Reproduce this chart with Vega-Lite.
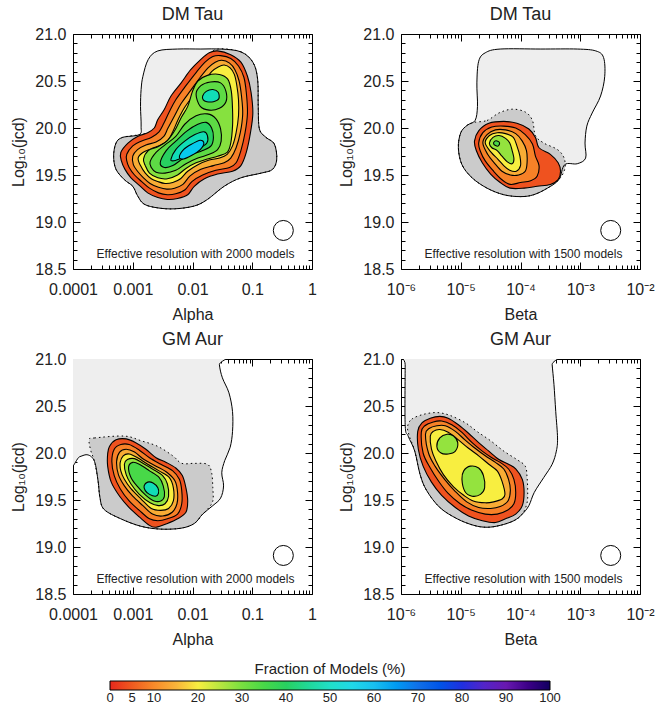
{
"$schema":"https://vega.github.io/schema/vega-lite/v6.json",
"padding":{"left":10,"top":5,"right":5,"bottom":5},
"background":"white",
"datasets":{"c":[
{"p":1,"s":"L","x":-2.86,"y":20.41},{"p":1,"s":"L","x":-2.83,"y":20.55},{"p":1,"s":"L","x":-2.74,"y":20.73},{"p":1,"s":"L","x":-2.58,"y":20.82},{"p":1,"s":"L","x":-2.25,"y":20.84},{"p":1,"s":"L","x":-1.86,"y":20.84},{"p":1,"s":"L","x":-1.52,"y":20.84},{"p":1,"s":"L","x":-1.19,"y":20.81},{"p":1,"s":"L","x":-0.99,"y":20.70},{"p":1,"s":"L","x":-0.91,"y":20.52},{"p":1,"s":"L","x":-0.90,"y":20.23},{"p":1,"s":"L","x":-0.88,"y":19.99},{"p":1,"s":"L","x":-0.77,"y":19.90},{"p":1,"s":"L","x":-0.63,"y":19.83},{"p":1,"s":"L","x":-0.59,"y":19.67},{"p":1,"s":"L","x":-0.66,"y":19.56},{"p":1,"s":"L","x":-0.85,"y":19.52},{"p":1,"s":"L","x":-1.19,"y":19.47},{"p":1,"s":"L","x":-1.47,"y":19.38},{"p":1,"s":"L","x":-1.75,"y":19.24},{"p":1,"s":"L","x":-1.97,"y":19.17},{"p":1,"s":"L","x":-2.30,"y":19.14},{"p":1,"s":"L","x":-2.58,"y":19.15},{"p":1,"s":"L","x":-2.81,"y":19.19},{"p":1,"s":"L","x":-2.92,"y":19.28},{"p":1,"s":"L","x":-3.00,"y":19.38},{"p":1,"s":"L","x":-3.14,"y":19.45},{"p":1,"s":"L","x":-3.28,"y":19.56},{"p":1,"s":"L","x":-3.32,"y":19.70},{"p":1,"s":"L","x":-3.28,"y":19.84},{"p":1,"s":"L","x":-3.17,"y":19.90},{"p":1,"s":"L","x":-2.89,"y":19.93},{"p":1,"s":"L","x":-2.86,"y":20.02},{"p":1,"s":"L","x":-2.87,"y":20.23},
{"p":1,"s":"D","x":-1.58,"y":20.84},{"p":1,"s":"D","x":-1.19,"y":20.81},{"p":1,"s":"D","x":-0.99,"y":20.70},{"p":1,"s":"D","x":-0.91,"y":20.52},{"p":1,"s":"D","x":-0.90,"y":20.23},{"p":1,"s":"D","x":-0.88,"y":19.99},{"p":1,"s":"D","x":-0.77,"y":19.90},{"p":1,"s":"D","x":-0.63,"y":19.83},{"p":1,"s":"D","x":-0.59,"y":19.67},{"p":1,"s":"D","x":-0.66,"y":19.56},{"p":1,"s":"D","x":-0.85,"y":19.52},{"p":1,"s":"D","x":-1.19,"y":19.47},{"p":1,"s":"D","x":-1.47,"y":19.38},{"p":1,"s":"D","x":-1.75,"y":19.24},{"p":1,"s":"D","x":-1.97,"y":19.17},{"p":1,"s":"D","x":-2.30,"y":19.14},{"p":1,"s":"D","x":-2.58,"y":19.15},{"p":1,"s":"D","x":-2.81,"y":19.19},{"p":1,"s":"D","x":-2.92,"y":19.28},{"p":1,"s":"D","x":-3.00,"y":19.38},{"p":1,"s":"D","x":-3.14,"y":19.45},{"p":1,"s":"D","x":-3.28,"y":19.56},{"p":1,"s":"D","x":-3.32,"y":19.70},{"p":1,"s":"D","x":-3.28,"y":19.84},{"p":1,"s":"D","x":-3.17,"y":19.90},{"p":1,"s":"D","x":-2.89,"y":19.93},{"p":1,"s":"D","x":-2.53,"y":19.99},{"p":1,"s":"D","x":-2.33,"y":20.23},{"p":1,"s":"D","x":-2.05,"y":20.50},{"p":1,"s":"D","x":-1.75,"y":20.75},
{"p":1,"s":"a","l":4,"x":-3.20,"y":19.74},{"p":1,"s":"a","l":4,"x":-3.08,"y":19.84},{"p":1,"s":"a","l":4,"x":-2.92,"y":19.91},{"p":1,"s":"a","l":4,"x":-2.75,"y":19.95},{"p":1,"s":"a","l":4,"x":-2.64,"y":20.00},{"p":1,"s":"a","l":4,"x":-2.58,"y":20.09},{"p":1,"s":"a","l":4,"x":-2.47,"y":20.20},{"p":1,"s":"a","l":4,"x":-2.36,"y":20.34},{"p":1,"s":"a","l":4,"x":-2.19,"y":20.48},{"p":1,"s":"a","l":4,"x":-2.03,"y":20.62},{"p":1,"s":"a","l":4,"x":-1.86,"y":20.73},{"p":1,"s":"a","l":4,"x":-1.72,"y":20.80},{"p":1,"s":"a","l":4,"x":-1.58,"y":20.82},{"p":1,"s":"a","l":4,"x":-1.36,"y":20.78},{"p":1,"s":"a","l":4,"x":-1.19,"y":20.70},{"p":1,"s":"a","l":4,"x":-1.08,"y":20.55},{"p":1,"s":"a","l":4,"x":-1.02,"y":20.38},{"p":1,"s":"a","l":4,"x":-0.99,"y":20.16},{"p":1,"s":"a","l":4,"x":-1.03,"y":19.95},{"p":1,"s":"a","l":4,"x":-1.10,"y":19.74},{"p":1,"s":"a","l":4,"x":-1.19,"y":19.60},{"p":1,"s":"a","l":4,"x":-1.33,"y":19.54},{"p":1,"s":"a","l":4,"x":-1.58,"y":19.51},{"p":1,"s":"a","l":4,"x":-1.80,"y":19.46},{"p":1,"s":"a","l":4,"x":-1.97,"y":19.38},{"p":1,"s":"a","l":4,"x":-2.08,"y":19.29},{"p":1,"s":"a","l":4,"x":-2.25,"y":19.25},{"p":1,"s":"a","l":4,"x":-2.42,"y":19.24},{"p":1,"s":"a","l":4,"x":-2.58,"y":19.26},{"p":1,"s":"a","l":4,"x":-2.75,"y":19.31},{"p":1,"s":"a","l":4,"x":-2.89,"y":19.39},{"p":1,"s":"a","l":4,"x":-3.03,"y":19.47},{"p":1,"s":"a","l":4,"x":-3.13,"y":19.56},{"p":1,"s":"a","l":4,"x":-3.19,"y":19.65},
{"p":1,"s":"b","l":9,"x":-3.10,"y":19.72},{"p":1,"s":"b","l":9,"x":-3.00,"y":19.81},{"p":1,"s":"b","l":9,"x":-2.86,"y":19.86},{"p":1,"s":"b","l":9,"x":-2.69,"y":19.90},{"p":1,"s":"b","l":9,"x":-2.56,"y":19.96},{"p":1,"s":"b","l":9,"x":-2.48,"y":20.05},{"p":1,"s":"b","l":9,"x":-2.39,"y":20.17},{"p":1,"s":"b","l":9,"x":-2.28,"y":20.30},{"p":1,"s":"b","l":9,"x":-2.11,"y":20.45},{"p":1,"s":"b","l":9,"x":-1.94,"y":20.59},{"p":1,"s":"b","l":9,"x":-1.79,"y":20.70},{"p":1,"s":"b","l":9,"x":-1.66,"y":20.76},{"p":1,"s":"b","l":9,"x":-1.53,"y":20.77},{"p":1,"s":"b","l":9,"x":-1.36,"y":20.74},{"p":1,"s":"b","l":9,"x":-1.23,"y":20.66},{"p":1,"s":"b","l":9,"x":-1.14,"y":20.54},{"p":1,"s":"b","l":9,"x":-1.10,"y":20.38},{"p":1,"s":"b","l":9,"x":-1.08,"y":20.16},{"p":1,"s":"b","l":9,"x":-1.12,"y":19.95},{"p":1,"s":"b","l":9,"x":-1.19,"y":19.76},{"p":1,"s":"b","l":9,"x":-1.27,"y":19.63},{"p":1,"s":"b","l":9,"x":-1.38,"y":19.58},{"p":1,"s":"b","l":9,"x":-1.61,"y":19.55},{"p":1,"s":"b","l":9,"x":-1.83,"y":19.50},{"p":1,"s":"b","l":9,"x":-2.01,"y":19.43},{"p":1,"s":"b","l":9,"x":-2.13,"y":19.34},{"p":1,"s":"b","l":9,"x":-2.28,"y":19.30},{"p":1,"s":"b","l":9,"x":-2.42,"y":19.29},{"p":1,"s":"b","l":9,"x":-2.57,"y":19.31},{"p":1,"s":"b","l":9,"x":-2.72,"y":19.36},{"p":1,"s":"b","l":9,"x":-2.85,"y":19.43},{"p":1,"s":"b","l":9,"x":-2.97,"y":19.50},{"p":1,"s":"b","l":9,"x":-3.06,"y":19.58},{"p":1,"s":"b","l":9,"x":-3.10,"y":19.65},
{"p":1,"s":"c","l":14,"x":-3.00,"y":19.70},{"p":1,"s":"c","l":14,"x":-2.92,"y":19.77},{"p":1,"s":"c","l":14,"x":-2.78,"y":19.82},{"p":1,"s":"c","l":14,"x":-2.61,"y":19.85},{"p":1,"s":"c","l":14,"x":-2.48,"y":19.91},{"p":1,"s":"c","l":14,"x":-2.41,"y":20.00},{"p":1,"s":"c","l":14,"x":-2.30,"y":20.13},{"p":1,"s":"c","l":14,"x":-2.19,"y":20.26},{"p":1,"s":"c","l":14,"x":-2.03,"y":20.40},{"p":1,"s":"c","l":14,"x":-1.87,"y":20.54},{"p":1,"s":"c","l":14,"x":-1.74,"y":20.64},{"p":1,"s":"c","l":14,"x":-1.62,"y":20.70},{"p":1,"s":"c","l":14,"x":-1.51,"y":20.72},{"p":1,"s":"c","l":14,"x":-1.38,"y":20.69},{"p":1,"s":"c","l":14,"x":-1.29,"y":20.62},{"p":1,"s":"c","l":14,"x":-1.22,"y":20.50},{"p":1,"s":"c","l":14,"x":-1.18,"y":20.34},{"p":1,"s":"c","l":14,"x":-1.16,"y":20.15},{"p":1,"s":"c","l":14,"x":-1.20,"y":19.95},{"p":1,"s":"c","l":14,"x":-1.27,"y":19.79},{"p":1,"s":"c","l":14,"x":-1.36,"y":19.68},{"p":1,"s":"c","l":14,"x":-1.47,"y":19.63},{"p":1,"s":"c","l":14,"x":-1.65,"y":19.60},{"p":1,"s":"c","l":14,"x":-1.86,"y":19.56},{"p":1,"s":"c","l":14,"x":-2.04,"y":19.49},{"p":1,"s":"c","l":14,"x":-2.16,"y":19.40},{"p":1,"s":"c","l":14,"x":-2.30,"y":19.36},{"p":1,"s":"c","l":14,"x":-2.43,"y":19.35},{"p":1,"s":"c","l":14,"x":-2.57,"y":19.37},{"p":1,"s":"c","l":14,"x":-2.71,"y":19.41},{"p":1,"s":"c","l":14,"x":-2.82,"y":19.47},{"p":1,"s":"c","l":14,"x":-2.92,"y":19.54},{"p":1,"s":"c","l":14,"x":-2.99,"y":19.61},
{"p":1,"s":"d","l":20,"x":-2.91,"y":19.68},{"p":1,"s":"d","l":20,"x":-2.83,"y":19.74},{"p":1,"s":"d","l":20,"x":-2.69,"y":19.78},{"p":1,"s":"d","l":20,"x":-2.53,"y":19.82},{"p":1,"s":"d","l":20,"x":-2.41,"y":19.87},{"p":1,"s":"d","l":20,"x":-2.33,"y":19.96},{"p":1,"s":"d","l":20,"x":-2.24,"y":20.09},{"p":1,"s":"d","l":20,"x":-2.13,"y":20.22},{"p":1,"s":"d","l":20,"x":-1.97,"y":20.36},{"p":1,"s":"d","l":20,"x":-1.81,"y":20.49},{"p":1,"s":"d","l":20,"x":-1.68,"y":20.60},{"p":1,"s":"d","l":20,"x":-1.57,"y":20.65},{"p":1,"s":"d","l":20,"x":-1.47,"y":20.67},{"p":1,"s":"d","l":20,"x":-1.37,"y":20.64},{"p":1,"s":"d","l":20,"x":-1.30,"y":20.57},{"p":1,"s":"d","l":20,"x":-1.26,"y":20.46},{"p":1,"s":"d","l":20,"x":-1.23,"y":20.30},{"p":1,"s":"d","l":20,"x":-1.23,"y":20.13},{"p":1,"s":"d","l":20,"x":-1.27,"y":19.95},{"p":1,"s":"d","l":20,"x":-1.33,"y":19.81},{"p":1,"s":"d","l":20,"x":-1.42,"y":19.72},{"p":1,"s":"d","l":20,"x":-1.55,"y":19.68},{"p":1,"s":"d","l":20,"x":-1.72,"y":19.66},{"p":1,"s":"d","l":20,"x":-1.91,"y":19.61},{"p":1,"s":"d","l":20,"x":-2.08,"y":19.54},{"p":1,"s":"d","l":20,"x":-2.20,"y":19.46},{"p":1,"s":"d","l":20,"x":-2.33,"y":19.42},{"p":1,"s":"d","l":20,"x":-2.46,"y":19.41},{"p":1,"s":"d","l":20,"x":-2.58,"y":19.43},{"p":1,"s":"d","l":20,"x":-2.69,"y":19.46},{"p":1,"s":"d","l":20,"x":-2.79,"y":19.52},{"p":1,"s":"d","l":20,"x":-2.87,"y":19.60},
{"p":1,"s":"e","l":29,"x":-2.82,"y":19.67},{"p":1,"s":"e","l":29,"x":-2.74,"y":19.76},{"p":1,"s":"e","l":29,"x":-2.58,"y":19.80},{"p":1,"s":"e","l":29,"x":-2.43,"y":19.86},{"p":1,"s":"e","l":29,"x":-2.30,"y":19.97},{"p":1,"s":"e","l":29,"x":-2.19,"y":20.11},{"p":1,"s":"e","l":29,"x":-2.08,"y":20.23},{"p":1,"s":"e","l":29,"x":-2.00,"y":20.39},{"p":1,"s":"e","l":29,"x":-1.91,"y":20.50},{"p":1,"s":"e","l":29,"x":-1.75,"y":20.56},{"p":1,"s":"e","l":29,"x":-1.55,"y":20.57},{"p":1,"s":"e","l":29,"x":-1.41,"y":20.52},{"p":1,"s":"e","l":29,"x":-1.35,"y":20.39},{"p":1,"s":"e","l":29,"x":-1.33,"y":20.20},{"p":1,"s":"e","l":29,"x":-1.33,"y":20.02},{"p":1,"s":"e","l":29,"x":-1.36,"y":19.84},{"p":1,"s":"e","l":29,"x":-1.42,"y":19.74},{"p":1,"s":"e","l":29,"x":-1.58,"y":19.70},{"p":1,"s":"e","l":29,"x":-1.75,"y":19.67},{"p":1,"s":"e","l":29,"x":-1.94,"y":19.63},{"p":1,"s":"e","l":29,"x":-2.11,"y":19.57},{"p":1,"s":"e","l":29,"x":-2.25,"y":19.50},{"p":1,"s":"e","l":29,"x":-2.42,"y":19.46},{"p":1,"s":"e","l":29,"x":-2.58,"y":19.47},{"p":1,"s":"e","l":29,"x":-2.72,"y":19.52},{"p":1,"s":"e","l":29,"x":-2.79,"y":19.60},
{"p":1,"s":"f","l":33,"x":-2.71,"y":19.64},{"p":1,"s":"f","l":33,"x":-2.61,"y":19.74},{"p":1,"s":"f","l":33,"x":-2.46,"y":19.82},{"p":1,"s":"f","l":33,"x":-2.28,"y":19.91},{"p":1,"s":"f","l":33,"x":-2.13,"y":20.04},{"p":1,"s":"f","l":33,"x":-1.94,"y":20.13},{"p":1,"s":"f","l":33,"x":-1.75,"y":20.15},{"p":1,"s":"f","l":33,"x":-1.61,"y":20.10},{"p":1,"s":"f","l":33,"x":-1.53,"y":19.99},{"p":1,"s":"f","l":33,"x":-1.52,"y":19.86},{"p":1,"s":"f","l":33,"x":-1.58,"y":19.77},{"p":1,"s":"f","l":33,"x":-1.72,"y":19.72},{"p":1,"s":"f","l":33,"x":-1.91,"y":19.68},{"p":1,"s":"f","l":33,"x":-2.11,"y":19.62},{"p":1,"s":"f","l":33,"x":-2.28,"y":19.55},{"p":1,"s":"f","l":33,"x":-2.46,"y":19.52},{"p":1,"s":"f","l":33,"x":-2.61,"y":19.53},{"p":1,"s":"f","l":33,"x":-2.69,"y":19.58},
{"p":1,"s":"g","l":33,"x":-1.94,"y":20.36},{"p":1,"s":"g","l":33,"x":-1.86,"y":20.45},{"p":1,"s":"g","l":33,"x":-1.70,"y":20.49},{"p":1,"s":"g","l":33,"x":-1.53,"y":20.48},{"p":1,"s":"g","l":33,"x":-1.44,"y":20.39},{"p":1,"s":"g","l":33,"x":-1.44,"y":20.28},{"p":1,"s":"g","l":33,"x":-1.55,"y":20.21},{"p":1,"s":"g","l":33,"x":-1.72,"y":20.19},{"p":1,"s":"g","l":33,"x":-1.87,"y":20.23},
{"p":1,"s":"h","l":48,"x":-1.83,"y":20.34},{"p":1,"s":"h","l":48,"x":-1.77,"y":20.39},{"p":1,"s":"h","l":48,"x":-1.66,"y":20.41},{"p":1,"s":"h","l":48,"x":-1.57,"y":20.38},{"p":1,"s":"h","l":48,"x":-1.56,"y":20.31},{"p":1,"s":"h","l":48,"x":-1.65,"y":20.28},{"p":1,"s":"h","l":48,"x":-1.76,"y":20.28},{"p":1,"s":"h","l":48,"x":-1.82,"y":20.30},
{"p":1,"s":"i","l":40,"x":-2.54,"y":19.63},{"p":1,"s":"i","l":40,"x":-2.44,"y":19.76},{"p":1,"s":"i","l":40,"x":-2.28,"y":19.86},{"p":1,"s":"i","l":40,"x":-2.09,"y":19.97},{"p":1,"s":"i","l":40,"x":-1.91,"y":20.04},{"p":1,"s":"i","l":40,"x":-1.77,"y":20.06},{"p":1,"s":"i","l":40,"x":-1.68,"y":20.00},{"p":1,"s":"i","l":40,"x":-1.65,"y":19.90},{"p":1,"s":"i","l":40,"x":-1.69,"y":19.81},{"p":1,"s":"i","l":40,"x":-1.83,"y":19.76},{"p":1,"s":"i","l":40,"x":-2.00,"y":19.72},{"p":1,"s":"i","l":40,"x":-2.17,"y":19.67},{"p":1,"s":"i","l":40,"x":-2.33,"y":19.60},{"p":1,"s":"i","l":40,"x":-2.47,"y":19.58},
{"p":1,"s":"j","l":48,"x":-2.36,"y":19.67},{"p":1,"s":"j","l":48,"x":-2.28,"y":19.77},{"p":1,"s":"j","l":48,"x":-2.13,"y":19.86},{"p":1,"s":"j","l":48,"x":-1.96,"y":19.93},{"p":1,"s":"j","l":48,"x":-1.81,"y":19.96},{"p":1,"s":"j","l":48,"x":-1.75,"y":19.92},{"p":1,"s":"j","l":48,"x":-1.76,"y":19.84},{"p":1,"s":"j","l":48,"x":-1.89,"y":19.78},{"p":1,"s":"j","l":48,"x":-2.05,"y":19.72},{"p":1,"s":"j","l":48,"x":-2.22,"y":19.67},{"p":1,"s":"j","l":48,"x":-2.33,"y":19.65},
{"p":1,"s":"k","l":58,"x":-2.22,"y":19.69},{"p":1,"s":"k","l":58,"x":-2.15,"y":19.77},{"p":1,"s":"k","l":58,"x":-2.01,"y":19.83},{"p":1,"s":"k","l":58,"x":-1.87,"y":19.87},{"p":1,"s":"k","l":58,"x":-1.81,"y":19.84},{"p":1,"s":"k","l":58,"x":-1.87,"y":19.77},{"p":1,"s":"k","l":58,"x":-2.01,"y":19.71},{"p":1,"s":"k","l":58,"x":-2.15,"y":19.67},
{"p":1,"s":"O","x":-0.48,"y":18.91},{"p":1,"s":"T","x":-1.95,"y":18.66,"t":"Effective resolution with 2000 models"},

{"p":2,"s":"L","x":-4.70,"y":20.71},{"p":2,"s":"L","x":-4.59,"y":20.80},{"p":2,"s":"L","x":-4.34,"y":20.84},{"p":2,"s":"L","x":-3.66,"y":20.84},{"p":2,"s":"L","x":-3.05,"y":20.84},{"p":2,"s":"L","x":-2.74,"y":20.82},{"p":2,"s":"L","x":-2.61,"y":20.75},{"p":2,"s":"L","x":-2.59,"y":20.55},{"p":2,"s":"L","x":-2.66,"y":20.34},{"p":2,"s":"L","x":-2.80,"y":20.16},{"p":2,"s":"L","x":-2.89,"y":20.02},{"p":2,"s":"L","x":-2.92,"y":19.84},{"p":2,"s":"L","x":-2.91,"y":19.68},{"p":2,"s":"L","x":-3.05,"y":19.62},{"p":2,"s":"L","x":-3.26,"y":19.61},{"p":2,"s":"L","x":-3.36,"y":19.45},{"p":2,"s":"L","x":-3.55,"y":19.36},{"p":2,"s":"L","x":-3.78,"y":19.29},{"p":2,"s":"L","x":-4.00,"y":19.27},{"p":2,"s":"L","x":-4.28,"y":19.29},{"p":2,"s":"L","x":-4.56,"y":19.36},{"p":2,"s":"L","x":-4.81,"y":19.47},{"p":2,"s":"L","x":-4.98,"y":19.61},{"p":2,"s":"L","x":-5.04,"y":19.79},{"p":2,"s":"L","x":-5.00,"y":19.95},{"p":2,"s":"L","x":-4.89,"y":20.03},{"p":2,"s":"L","x":-4.76,"y":20.08},{"p":2,"s":"L","x":-4.72,"y":20.23},{"p":2,"s":"L","x":-4.73,"y":20.48},
{"p":2,"s":"D","x":-4.78,"y":20.06},{"p":2,"s":"D","x":-4.56,"y":20.08},{"p":2,"s":"D","x":-4.36,"y":20.16},{"p":2,"s":"D","x":-4.14,"y":20.20},{"p":2,"s":"D","x":-3.92,"y":20.17},{"p":2,"s":"D","x":-3.80,"y":20.08},{"p":2,"s":"D","x":-3.75,"y":19.92},{"p":2,"s":"D","x":-3.61,"y":19.84},{"p":2,"s":"D","x":-3.38,"y":19.77},{"p":2,"s":"D","x":-3.27,"y":19.68},{"p":2,"s":"D","x":-3.26,"y":19.56},{"p":2,"s":"D","x":-3.36,"y":19.45},{"p":2,"s":"D","x":-3.55,"y":19.36},{"p":2,"s":"D","x":-3.78,"y":19.29},{"p":2,"s":"D","x":-4.00,"y":19.27},{"p":2,"s":"D","x":-4.28,"y":19.29},{"p":2,"s":"D","x":-4.56,"y":19.36},{"p":2,"s":"D","x":-4.81,"y":19.47},{"p":2,"s":"D","x":-4.98,"y":19.61},{"p":2,"s":"D","x":-5.04,"y":19.79},{"p":2,"s":"D","x":-5.00,"y":19.95},{"p":2,"s":"D","x":-4.89,"y":20.03},
{"p":2,"s":"a","l":4,"x":-4.77,"y":19.86},{"p":2,"s":"a","l":4,"x":-4.70,"y":19.97},{"p":2,"s":"a","l":4,"x":-4.53,"y":20.05},{"p":2,"s":"a","l":4,"x":-4.28,"y":20.07},{"p":2,"s":"a","l":4,"x":-4.06,"y":20.05},{"p":2,"s":"a","l":4,"x":-3.86,"y":19.99},{"p":2,"s":"a","l":4,"x":-3.75,"y":19.90},{"p":2,"s":"a","l":4,"x":-3.69,"y":19.79},{"p":2,"s":"a","l":4,"x":-3.50,"y":19.72},{"p":2,"s":"a","l":4,"x":-3.37,"y":19.63},{"p":2,"s":"a","l":4,"x":-3.33,"y":19.54},{"p":2,"s":"a","l":4,"x":-3.37,"y":19.45},{"p":2,"s":"a","l":4,"x":-3.50,"y":19.40},{"p":2,"s":"a","l":4,"x":-3.72,"y":19.38},{"p":2,"s":"a","l":4,"x":-3.94,"y":19.36},{"p":2,"s":"a","l":4,"x":-4.17,"y":19.36},{"p":2,"s":"a","l":4,"x":-4.34,"y":19.42},{"p":2,"s":"a","l":4,"x":-4.50,"y":19.51},{"p":2,"s":"a","l":4,"x":-4.64,"y":19.63},{"p":2,"s":"a","l":4,"x":-4.74,"y":19.76},
{"p":2,"s":"b","l":9,"x":-4.70,"y":19.84},{"p":2,"s":"b","l":9,"x":-4.63,"y":19.95},{"p":2,"s":"b","l":9,"x":-4.48,"y":20.01},{"p":2,"s":"b","l":9,"x":-4.28,"y":20.02},{"p":2,"s":"b","l":9,"x":-4.08,"y":20.00},{"p":2,"s":"b","l":9,"x":-3.92,"y":19.93},{"p":2,"s":"b","l":9,"x":-3.80,"y":19.83},{"p":2,"s":"b","l":9,"x":-3.75,"y":19.70},{"p":2,"s":"b","l":9,"x":-3.69,"y":19.60},{"p":2,"s":"b","l":9,"x":-3.72,"y":19.49},{"p":2,"s":"b","l":9,"x":-3.83,"y":19.44},{"p":2,"s":"b","l":9,"x":-4.00,"y":19.42},{"p":2,"s":"b","l":9,"x":-4.17,"y":19.40},{"p":2,"s":"b","l":9,"x":-4.31,"y":19.45},{"p":2,"s":"b","l":9,"x":-4.45,"y":19.54},{"p":2,"s":"b","l":9,"x":-4.59,"y":19.65},{"p":2,"s":"b","l":9,"x":-4.67,"y":19.75},
{"p":2,"s":"c","l":14,"x":-4.63,"y":19.84},{"p":2,"s":"c","l":14,"x":-4.56,"y":19.93},{"p":2,"s":"c","l":14,"x":-4.42,"y":19.98},{"p":2,"s":"c","l":14,"x":-4.25,"y":19.98},{"p":2,"s":"c","l":14,"x":-4.08,"y":19.94},{"p":2,"s":"c","l":14,"x":-3.97,"y":19.86},{"p":2,"s":"c","l":14,"x":-3.90,"y":19.76},{"p":2,"s":"c","l":14,"x":-3.89,"y":19.63},{"p":2,"s":"c","l":14,"x":-3.92,"y":19.54},{"p":2,"s":"c","l":14,"x":-4.03,"y":19.50},{"p":2,"s":"c","l":14,"x":-4.17,"y":19.50},{"p":2,"s":"c","l":14,"x":-4.31,"y":19.54},{"p":2,"s":"c","l":14,"x":-4.44,"y":19.63},{"p":2,"s":"c","l":14,"x":-4.55,"y":19.72},
{"p":2,"s":"d","l":20,"x":-4.59,"y":19.84},{"p":2,"s":"d","l":20,"x":-4.52,"y":19.92},{"p":2,"s":"d","l":20,"x":-4.39,"y":19.95},{"p":2,"s":"d","l":20,"x":-4.25,"y":19.94},{"p":2,"s":"d","l":20,"x":-4.12,"y":19.90},{"p":2,"s":"d","l":20,"x":-4.06,"y":19.81},{"p":2,"s":"d","l":20,"x":-4.01,"y":19.70},{"p":2,"s":"d","l":20,"x":-4.00,"y":19.60},{"p":2,"s":"d","l":20,"x":-4.07,"y":19.54},{"p":2,"s":"d","l":20,"x":-4.18,"y":19.55},{"p":2,"s":"d","l":20,"x":-4.28,"y":19.60},{"p":2,"s":"d","l":20,"x":-4.38,"y":19.67},{"p":2,"s":"d","l":20,"x":-4.49,"y":19.74},
{"p":2,"s":"e","l":28,"x":-4.52,"y":19.84},{"p":2,"s":"e","l":28,"x":-4.46,"y":19.90},{"p":2,"s":"e","l":28,"x":-4.36,"y":19.92},{"p":2,"s":"e","l":28,"x":-4.25,"y":19.89},{"p":2,"s":"e","l":28,"x":-4.18,"y":19.84},{"p":2,"s":"e","l":28,"x":-4.14,"y":19.76},{"p":2,"s":"e","l":28,"x":-4.11,"y":19.67},{"p":2,"s":"e","l":28,"x":-4.14,"y":19.62},{"p":2,"s":"e","l":28,"x":-4.22,"y":19.64},{"p":2,"s":"e","l":28,"x":-4.31,"y":19.70},{"p":2,"s":"e","l":28,"x":-4.39,"y":19.76},{"p":2,"s":"e","l":28,"x":-4.48,"y":19.79},
{"p":2,"s":"f","l":35,"x":-4.45,"y":19.83},{"p":2,"s":"f","l":35,"x":-4.43,"y":19.86},{"p":2,"s":"f","l":35,"x":-4.38,"y":19.86},{"p":2,"s":"f","l":35,"x":-4.35,"y":19.84},{"p":2,"s":"f","l":35,"x":-4.37,"y":19.81},{"p":2,"s":"f","l":35,"x":-4.41,"y":19.81},
{"p":2,"s":"O","x":-2.49,"y":18.91},{"p":2,"s":"T","x":-3.95,"y":18.66,"t":"Effective resolution with 1500 models"},

{"p":3,"s":"L","x":-4.09,"y":21.08},{"p":3,"s":"L","x":-1.55,"y":21.08},{"p":3,"s":"L","x":-1.55,"y":20.94},{"p":3,"s":"L","x":-1.50,"y":20.80},{"p":3,"s":"L","x":-1.39,"y":20.64},{"p":3,"s":"L","x":-1.33,"y":20.44},{"p":3,"s":"L","x":-1.33,"y":20.23},{"p":3,"s":"L","x":-1.37,"y":20.06},{"p":3,"s":"L","x":-1.46,"y":19.92},{"p":3,"s":"L","x":-1.51,"y":19.79},{"p":3,"s":"L","x":-1.48,"y":19.65},{"p":3,"s":"L","x":-1.53,"y":19.52},{"p":3,"s":"L","x":-1.66,"y":19.44},{"p":3,"s":"L","x":-1.83,"y":19.35},{"p":3,"s":"L","x":-1.97,"y":19.25},{"p":3,"s":"L","x":-2.19,"y":19.20},{"p":3,"s":"L","x":-2.53,"y":19.19},{"p":3,"s":"L","x":-2.86,"y":19.22},{"p":3,"s":"L","x":-3.20,"y":19.30},{"p":3,"s":"L","x":-3.48,"y":19.40},{"p":3,"s":"L","x":-3.55,"y":19.53},{"p":3,"s":"L","x":-3.58,"y":19.70},{"p":3,"s":"L","x":-3.64,"y":19.91},{"p":3,"s":"L","x":-3.75,"y":19.98},{"p":3,"s":"L","x":-3.89,"y":19.96},{"p":3,"s":"L","x":-4.09,"y":19.91},
{"p":3,"s":"D","x":-3.73,"y":20.14},{"p":3,"s":"D","x":-3.64,"y":20.16},{"p":3,"s":"D","x":-3.14,"y":20.18},{"p":3,"s":"D","x":-2.86,"y":20.13},{"p":3,"s":"D","x":-2.58,"y":20.07},{"p":3,"s":"D","x":-2.33,"y":19.97},{"p":3,"s":"D","x":-2.18,"y":19.89},{"p":3,"s":"D","x":-1.97,"y":19.89},{"p":3,"s":"D","x":-1.75,"y":19.88},{"p":3,"s":"D","x":-1.68,"y":19.79},{"p":3,"s":"D","x":-1.66,"y":19.63},{"p":3,"s":"D","x":-1.66,"y":19.49},{"p":3,"s":"D","x":-1.75,"y":19.40},{"p":3,"s":"D","x":-1.83,"y":19.35},{"p":3,"s":"D","x":-1.97,"y":19.25},{"p":3,"s":"D","x":-2.19,"y":19.20},{"p":3,"s":"D","x":-2.53,"y":19.19},{"p":3,"s":"D","x":-2.86,"y":19.22},{"p":3,"s":"D","x":-3.20,"y":19.30},{"p":3,"s":"D","x":-3.48,"y":19.40},{"p":3,"s":"D","x":-3.55,"y":19.53},{"p":3,"s":"D","x":-3.58,"y":19.70},{"p":3,"s":"D","x":-3.64,"y":19.91},{"p":3,"s":"D","x":-3.70,"y":20.02},
{"p":3,"s":"a","l":4,"x":-3.42,"y":19.86},{"p":3,"s":"a","l":4,"x":-3.42,"y":19.99},{"p":3,"s":"a","l":4,"x":-3.39,"y":20.07},{"p":3,"s":"a","l":4,"x":-3.28,"y":20.14},{"p":3,"s":"a","l":4,"x":-3.11,"y":20.15},{"p":3,"s":"a","l":4,"x":-2.95,"y":20.11},{"p":3,"s":"a","l":4,"x":-2.78,"y":20.04},{"p":3,"s":"a","l":4,"x":-2.61,"y":19.95},{"p":3,"s":"a","l":4,"x":-2.44,"y":19.90},{"p":3,"s":"a","l":4,"x":-2.28,"y":19.84},{"p":3,"s":"a","l":4,"x":-2.17,"y":19.76},{"p":3,"s":"a","l":4,"x":-2.11,"y":19.63},{"p":3,"s":"a","l":4,"x":-2.08,"y":19.49},{"p":3,"s":"a","l":4,"x":-2.11,"y":19.37},{"p":3,"s":"a","l":4,"x":-2.25,"y":19.30},{"p":3,"s":"a","l":4,"x":-2.42,"y":19.25},{"p":3,"s":"a","l":4,"x":-2.61,"y":19.21},{"p":3,"s":"a","l":4,"x":-2.72,"y":19.23},{"p":3,"s":"a","l":4,"x":-2.89,"y":19.32},{"p":3,"s":"a","l":4,"x":-3.06,"y":19.42},{"p":3,"s":"a","l":4,"x":-3.22,"y":19.54},{"p":3,"s":"a","l":4,"x":-3.36,"y":19.69},
{"p":3,"s":"b","l":9,"x":-3.35,"y":19.91},{"p":3,"s":"b","l":9,"x":-3.31,"y":20.04},{"p":3,"s":"b","l":9,"x":-3.20,"y":20.09},{"p":3,"s":"b","l":9,"x":-3.06,"y":20.09},{"p":3,"s":"b","l":9,"x":-2.89,"y":20.03},{"p":3,"s":"b","l":9,"x":-2.72,"y":19.95},{"p":3,"s":"b","l":9,"x":-2.53,"y":19.88},{"p":3,"s":"b","l":9,"x":-2.33,"y":19.81},{"p":3,"s":"b","l":9,"x":-2.22,"y":19.72},{"p":3,"s":"b","l":9,"x":-2.18,"y":19.60},{"p":3,"s":"b","l":9,"x":-2.18,"y":19.46},{"p":3,"s":"b","l":9,"x":-2.25,"y":19.35},{"p":3,"s":"b","l":9,"x":-2.42,"y":19.30},{"p":3,"s":"b","l":9,"x":-2.58,"y":19.28},{"p":3,"s":"b","l":9,"x":-2.72,"y":19.30},{"p":3,"s":"b","l":9,"x":-2.89,"y":19.39},{"p":3,"s":"b","l":9,"x":-3.06,"y":19.49},{"p":3,"s":"b","l":9,"x":-3.21,"y":19.62},{"p":3,"s":"b","l":9,"x":-3.31,"y":19.76},
{"p":3,"s":"c","l":14,"x":-3.27,"y":19.91},{"p":3,"s":"c","l":14,"x":-3.22,"y":20.01},{"p":3,"s":"c","l":14,"x":-3.11,"y":20.04},{"p":3,"s":"c","l":14,"x":-2.97,"y":20.01},{"p":3,"s":"c","l":14,"x":-2.81,"y":19.93},{"p":3,"s":"c","l":14,"x":-2.61,"y":19.86},{"p":3,"s":"c","l":14,"x":-2.42,"y":19.79},{"p":3,"s":"c","l":14,"x":-2.29,"y":19.70},{"p":3,"s":"c","l":14,"x":-2.25,"y":19.58},{"p":3,"s":"c","l":14,"x":-2.26,"y":19.46},{"p":3,"s":"c","l":14,"x":-2.34,"y":19.37},{"p":3,"s":"c","l":14,"x":-2.50,"y":19.33},{"p":3,"s":"c","l":14,"x":-2.67,"y":19.35},{"p":3,"s":"c","l":14,"x":-2.83,"y":19.44},{"p":3,"s":"c","l":14,"x":-3.00,"y":19.54},{"p":3,"s":"c","l":14,"x":-3.14,"y":19.65},{"p":3,"s":"c","l":14,"x":-3.24,"y":19.77},
{"p":3,"s":"d","l":20,"x":-3.21,"y":19.90},{"p":3,"s":"d","l":20,"x":-3.16,"y":19.97},{"p":3,"s":"d","l":20,"x":-3.06,"y":19.99},{"p":3,"s":"d","l":20,"x":-2.92,"y":19.95},{"p":3,"s":"d","l":20,"x":-2.75,"y":19.88},{"p":3,"s":"d","l":20,"x":-2.56,"y":19.81},{"p":3,"s":"d","l":20,"x":-2.39,"y":19.74},{"p":3,"s":"d","l":20,"x":-2.32,"y":19.63},{"p":3,"s":"d","l":20,"x":-2.32,"y":19.49},{"p":3,"s":"d","l":20,"x":-2.40,"y":19.41},{"p":3,"s":"d","l":20,"x":-2.53,"y":19.39},{"p":3,"s":"d","l":20,"x":-2.69,"y":19.41},{"p":3,"s":"d","l":20,"x":-2.86,"y":19.51},{"p":3,"s":"d","l":20,"x":-3.03,"y":19.62},{"p":3,"s":"d","l":20,"x":-3.14,"y":19.72},{"p":3,"s":"d","l":20,"x":-3.20,"y":19.81},
{"p":3,"s":"e","l":28,"x":-3.14,"y":19.88},{"p":3,"s":"e","l":28,"x":-3.09,"y":19.93},{"p":3,"s":"e","l":28,"x":-2.97,"y":19.94},{"p":3,"s":"e","l":28,"x":-2.83,"y":19.89},{"p":3,"s":"e","l":28,"x":-2.67,"y":19.83},{"p":3,"s":"e","l":28,"x":-2.50,"y":19.76},{"p":3,"s":"e","l":28,"x":-2.42,"y":19.67},{"p":3,"s":"e","l":28,"x":-2.40,"y":19.54},{"p":3,"s":"e","l":28,"x":-2.46,"y":19.46},{"p":3,"s":"e","l":28,"x":-2.57,"y":19.44},{"p":3,"s":"e","l":28,"x":-2.71,"y":19.47},{"p":3,"s":"e","l":28,"x":-2.89,"y":19.56},{"p":3,"s":"e","l":28,"x":-3.03,"y":19.67},{"p":3,"s":"e","l":28,"x":-3.11,"y":19.77},
{"p":3,"s":"f","l":35,"x":-3.07,"y":19.85},{"p":3,"s":"f","l":35,"x":-3.00,"y":19.90},{"p":3,"s":"f","l":35,"x":-2.89,"y":19.88},{"p":3,"s":"f","l":35,"x":-2.72,"y":19.81},{"p":3,"s":"f","l":35,"x":-2.56,"y":19.74},{"p":3,"s":"f","l":35,"x":-2.49,"y":19.65},{"p":3,"s":"f","l":35,"x":-2.47,"y":19.54},{"p":3,"s":"f","l":35,"x":-2.53,"y":19.49},{"p":3,"s":"f","l":35,"x":-2.64,"y":19.49},{"p":3,"s":"f","l":35,"x":-2.78,"y":19.55},{"p":3,"s":"f","l":35,"x":-2.93,"y":19.65},{"p":3,"s":"f","l":35,"x":-3.03,"y":19.74},
{"p":3,"s":"g","l":48,"x":-2.81,"y":19.65},{"p":3,"s":"g","l":48,"x":-2.75,"y":19.69},{"p":3,"s":"g","l":48,"x":-2.66,"y":19.68},{"p":3,"s":"g","l":48,"x":-2.58,"y":19.63},{"p":3,"s":"g","l":48,"x":-2.57,"y":19.57},{"p":3,"s":"g","l":48,"x":-2.62,"y":19.54},{"p":3,"s":"g","l":48,"x":-2.72,"y":19.56},{"p":3,"s":"g","l":48,"x":-2.79,"y":19.60},
{"p":3,"s":"O","x":-0.48,"y":18.91},{"p":3,"s":"T","x":-1.95,"y":18.66,"t":"Effective resolution with 2000 models"},

{"p":4,"s":"L","x":-5.93,"y":21.08},{"p":4,"s":"L","x":-3.48,"y":21.08},{"p":4,"s":"L","x":-3.47,"y":20.94},{"p":4,"s":"L","x":-3.44,"y":20.73},{"p":4,"s":"L","x":-3.41,"y":20.44},{"p":4,"s":"L","x":-3.38,"y":20.16},{"p":4,"s":"L","x":-3.40,"y":20.02},{"p":4,"s":"L","x":-3.47,"y":19.88},{"p":4,"s":"L","x":-3.61,"y":19.74},{"p":4,"s":"L","x":-3.77,"y":19.58},{"p":4,"s":"L","x":-3.86,"y":19.44},{"p":4,"s":"L","x":-3.97,"y":19.35},{"p":4,"s":"L","x":-4.11,"y":19.28},{"p":4,"s":"L","x":-4.34,"y":19.23},{"p":4,"s":"L","x":-4.56,"y":19.21},{"p":4,"s":"L","x":-4.78,"y":19.23},{"p":4,"s":"L","x":-5.06,"y":19.30},{"p":4,"s":"L","x":-5.35,"y":19.42},{"p":4,"s":"L","x":-5.57,"y":19.60},{"p":4,"s":"L","x":-5.68,"y":19.77},{"p":4,"s":"L","x":-5.77,"y":20.02},{"p":4,"s":"L","x":-5.88,"y":20.18},{"p":4,"s":"L","x":-5.93,"y":20.30},{"p":4,"s":"L","x":-5.93,"y":20.94},
{"p":4,"s":"D","x":-5.89,"y":20.28},{"p":4,"s":"D","x":-5.82,"y":20.36},{"p":4,"s":"D","x":-5.63,"y":20.41},{"p":4,"s":"D","x":-5.40,"y":20.43},{"p":4,"s":"D","x":-5.18,"y":20.40},{"p":4,"s":"D","x":-4.92,"y":20.32},{"p":4,"s":"D","x":-4.73,"y":20.23},{"p":4,"s":"D","x":-4.50,"y":20.13},{"p":4,"s":"D","x":-4.28,"y":20.02},{"p":4,"s":"D","x":-4.06,"y":19.93},{"p":4,"s":"D","x":-3.92,"y":19.86},{"p":4,"s":"D","x":-3.89,"y":19.74},{"p":4,"s":"D","x":-3.88,"y":19.60},{"p":4,"s":"D","x":-3.89,"y":19.47},{"p":4,"s":"D","x":-3.97,"y":19.35},{"p":4,"s":"D","x":-4.11,"y":19.28},{"p":4,"s":"D","x":-4.34,"y":19.23},{"p":4,"s":"D","x":-4.56,"y":19.21},{"p":4,"s":"D","x":-4.78,"y":19.23},{"p":4,"s":"D","x":-5.06,"y":19.30},{"p":4,"s":"D","x":-5.35,"y":19.42},{"p":4,"s":"D","x":-5.57,"y":19.60},{"p":4,"s":"D","x":-5.68,"y":19.77},{"p":4,"s":"D","x":-5.77,"y":20.02},{"p":4,"s":"D","x":-5.86,"y":20.18},
{"p":4,"s":"a","l":4,"x":-5.72,"y":20.23},{"p":4,"s":"a","l":4,"x":-5.65,"y":20.32},{"p":4,"s":"a","l":4,"x":-5.51,"y":20.37},{"p":4,"s":"a","l":4,"x":-5.35,"y":20.39},{"p":4,"s":"a","l":4,"x":-5.21,"y":20.37},{"p":4,"s":"a","l":4,"x":-5.04,"y":20.30},{"p":4,"s":"a","l":4,"x":-4.87,"y":20.21},{"p":4,"s":"a","l":4,"x":-4.70,"y":20.11},{"p":4,"s":"a","l":4,"x":-4.53,"y":20.02},{"p":4,"s":"a","l":4,"x":-4.36,"y":19.93},{"p":4,"s":"a","l":4,"x":-4.20,"y":19.88},{"p":4,"s":"a","l":4,"x":-4.08,"y":19.83},{"p":4,"s":"a","l":4,"x":-3.97,"y":19.72},{"p":4,"s":"a","l":4,"x":-3.94,"y":19.58},{"p":4,"s":"a","l":4,"x":-3.97,"y":19.44},{"p":4,"s":"a","l":4,"x":-4.08,"y":19.35},{"p":4,"s":"a","l":4,"x":-4.25,"y":19.30},{"p":4,"s":"a","l":4,"x":-4.42,"y":19.26},{"p":4,"s":"a","l":4,"x":-4.64,"y":19.28},{"p":4,"s":"a","l":4,"x":-4.87,"y":19.33},{"p":4,"s":"a","l":4,"x":-5.09,"y":19.42},{"p":4,"s":"a","l":4,"x":-5.32,"y":19.55},{"p":4,"s":"a","l":4,"x":-5.49,"y":19.69},{"p":4,"s":"a","l":4,"x":-5.63,"y":19.86},{"p":4,"s":"a","l":4,"x":-5.71,"y":20.04},
{"p":4,"s":"b","l":9,"x":-5.66,"y":20.22},{"p":4,"s":"b","l":9,"x":-5.60,"y":20.29},{"p":4,"s":"b","l":9,"x":-5.46,"y":20.33},{"p":4,"s":"b","l":9,"x":-5.32,"y":20.34},{"p":4,"s":"b","l":9,"x":-5.15,"y":20.30},{"p":4,"s":"b","l":9,"x":-4.98,"y":20.22},{"p":4,"s":"b","l":9,"x":-4.81,"y":20.11},{"p":4,"s":"b","l":9,"x":-4.64,"y":20.02},{"p":4,"s":"b","l":9,"x":-4.48,"y":19.95},{"p":4,"s":"b","l":9,"x":-4.34,"y":19.90},{"p":4,"s":"b","l":9,"x":-4.20,"y":19.83},{"p":4,"s":"b","l":9,"x":-4.11,"y":19.72},{"p":4,"s":"b","l":9,"x":-4.08,"y":19.58},{"p":4,"s":"b","l":9,"x":-4.11,"y":19.46},{"p":4,"s":"b","l":9,"x":-4.22,"y":19.39},{"p":4,"s":"b","l":9,"x":-4.39,"y":19.35},{"p":4,"s":"b","l":9,"x":-4.59,"y":19.35},{"p":4,"s":"b","l":9,"x":-4.81,"y":19.39},{"p":4,"s":"b","l":9,"x":-5.01,"y":19.46},{"p":4,"s":"b","l":9,"x":-5.21,"y":19.57},{"p":4,"s":"b","l":9,"x":-5.37,"y":19.70},{"p":4,"s":"b","l":9,"x":-5.51,"y":19.84},{"p":4,"s":"b","l":9,"x":-5.63,"y":20.00},
{"p":4,"s":"c","l":14,"x":-5.59,"y":20.20},{"p":4,"s":"c","l":14,"x":-5.53,"y":20.26},{"p":4,"s":"c","l":14,"x":-5.40,"y":20.29},{"p":4,"s":"c","l":14,"x":-5.26,"y":20.29},{"p":4,"s":"c","l":14,"x":-5.09,"y":20.23},{"p":4,"s":"c","l":14,"x":-4.93,"y":20.14},{"p":4,"s":"c","l":14,"x":-4.76,"y":20.05},{"p":4,"s":"c","l":14,"x":-4.59,"y":19.97},{"p":4,"s":"c","l":14,"x":-4.42,"y":19.90},{"p":4,"s":"c","l":14,"x":-4.28,"y":19.83},{"p":4,"s":"c","l":14,"x":-4.20,"y":19.72},{"p":4,"s":"c","l":14,"x":-4.17,"y":19.60},{"p":4,"s":"c","l":14,"x":-4.21,"y":19.49},{"p":4,"s":"c","l":14,"x":-4.34,"y":19.43},{"p":4,"s":"c","l":14,"x":-4.50,"y":19.41},{"p":4,"s":"c","l":14,"x":-4.70,"y":19.42},{"p":4,"s":"c","l":14,"x":-4.90,"y":19.48},{"p":4,"s":"c","l":14,"x":-5.09,"y":19.59},{"p":4,"s":"c","l":14,"x":-5.27,"y":19.72},{"p":4,"s":"c","l":14,"x":-5.43,"y":19.86},{"p":4,"s":"c","l":14,"x":-5.54,"y":20.00},
{"p":4,"s":"d","l":20,"x":-5.51,"y":20.18},{"p":4,"s":"d","l":20,"x":-5.46,"y":20.23},{"p":4,"s":"d","l":20,"x":-5.35,"y":20.25},{"p":4,"s":"d","l":20,"x":-5.21,"y":20.22},{"p":4,"s":"d","l":20,"x":-5.04,"y":20.14},{"p":4,"s":"d","l":20,"x":-4.87,"y":20.05},{"p":4,"s":"d","l":20,"x":-4.70,"y":19.97},{"p":4,"s":"d","l":20,"x":-4.53,"y":19.88},{"p":4,"s":"d","l":20,"x":-4.39,"y":19.81},{"p":4,"s":"d","l":20,"x":-4.31,"y":19.70},{"p":4,"s":"d","l":20,"x":-4.26,"y":19.56},{"p":4,"s":"d","l":20,"x":-4.31,"y":19.51},{"p":4,"s":"d","l":20,"x":-4.45,"y":19.48},{"p":4,"s":"d","l":20,"x":-4.59,"y":19.47},{"p":4,"s":"d","l":20,"x":-4.79,"y":19.49},{"p":4,"s":"d","l":20,"x":-4.95,"y":19.55},{"p":4,"s":"d","l":20,"x":-5.12,"y":19.64},{"p":4,"s":"d","l":20,"x":-5.29,"y":19.77},{"p":4,"s":"d","l":20,"x":-5.42,"y":19.92},{"p":4,"s":"d","l":20,"x":-5.49,"y":20.04},
{"p":4,"s":"e","l":28,"x":-5.40,"y":20.07},{"p":4,"s":"e","l":28,"x":-5.35,"y":20.16},{"p":4,"s":"e","l":28,"x":-5.23,"y":20.20},{"p":4,"s":"e","l":28,"x":-5.12,"y":20.18},{"p":4,"s":"e","l":28,"x":-5.05,"y":20.11},{"p":4,"s":"e","l":28,"x":-5.09,"y":20.02},{"p":4,"s":"e","l":28,"x":-5.21,"y":19.99},{"p":4,"s":"e","l":28,"x":-5.33,"y":20.00},
{"p":4,"s":"f","l":28,"x":-4.98,"y":19.72},{"p":4,"s":"f","l":28,"x":-4.95,"y":19.81},{"p":4,"s":"f","l":28,"x":-4.84,"y":19.86},{"p":4,"s":"f","l":28,"x":-4.70,"y":19.84},{"p":4,"s":"f","l":28,"x":-4.62,"y":19.76},{"p":4,"s":"f","l":28,"x":-4.60,"y":19.63},{"p":4,"s":"f","l":28,"x":-4.67,"y":19.56},{"p":4,"s":"f","l":28,"x":-4.81,"y":19.54},{"p":4,"s":"f","l":28,"x":-4.93,"y":19.59},
{"p":4,"s":"O","x":-2.49,"y":18.91},{"p":4,"s":"T","x":-3.95,"y":18.66,"t":"Effective resolution with 1500 models"}
]},
"config":{
 "view":{"stroke":"#000","strokeWidth":1},
 "font":"Liberation Sans",
 "axis":{"grid":false,"domain":false,"labelFont":"Liberation Sans","labelFontSize":16,"labelColor":"#222","titleFont":"Liberation Sans","titleFontSize":16,"titleFontWeight":"normal","titleColor":"#222","tickColor":"#000","tickWidth":1,"labelFlush":false,"labelOverlap":false},
 "title":{"font":"Liberation Sans","fontSize":18,"fontWeight":"normal","color":"#222","offset":2}
},
"spacing":7,
"vconcat":[
{"spacing":21,"hconcat":[
{"width":239,"height":235,"title":"DM Tau","data":{"name":"c"},"transform":[{"filter":"datum.p==1"}],
 "resolve":{"axis":{"x":"independent","y":"independent"}},
 "layer":[
  {"transform":[{"filter":"datum.s=='L'"}],"mark":{"type":"line","filled":true,"fill":"#eeeeee","color":"#eeeeee","strokeWidth":0,"interpolate":"cardinal-closed","clip":true,"order":null},
   "encoding":{"x":{"field":"x","type":"quantitative","scale":{"domain":[-4,0],"nice":false,"zero":false},"axis":{"orient":"bottom","values":[-4,-3,-2,-1,0],"labelExpr":"['0.0001','0.001','0.01','0.1','1'][datum.value+4]","ticks":false,"labelPadding":12,"title":"Alpha","titlePadding":9}},
    "y":{"field":"y","type":"quantitative","scale":{"domain":[18.5,21],"nice":false,"zero":false},"axis":{"orient":"left","values":[18.5,19,19.5,20,20.5,21],"format":".1f","ticks":false,"labelPadding":7,"title":"Log₁₀(jcd)","titlePadding":8}},
    "detail":{"field":"s"}}},
  {"transform":[{"filter":"datum.s=='D'"}],"mark":{"type":"line","filled":true,"fill":"#cbcbcb","stroke":"#000","strokeWidth":1,"strokeDash":[1.5,3],"interpolate":"cardinal-closed","clip":true,"order":null},
   "encoding":{"x":{"field":"x","type":"quantitative","scale":{"domain":[-4,0],"nice":false,"zero":false},"axis":{"orient":"bottom","values":[-4,-3,-2,-1,0],"labels":false,"tickSize":-7,"title":null}},
    "y":{"field":"y","type":"quantitative","scale":{"domain":[18.5,21],"nice":false,"zero":false},"axis":{"orient":"left","values":[18.5,19,19.5,20,20.5,21],"labels":false,"tickSize":-7,"title":null}},
    "detail":{"field":"s"}}},
  {"transform":[{"filter":"datum.s=='L'"}],"mark":{"type":"line","stroke":"#000","strokeWidth":1,"interpolate":"cardinal-closed","clip":true,"order":null},
   "encoding":{"x":{"field":"x","type":"quantitative","scale":{"domain":[-4,0],"nice":false,"zero":false},"axis":{"orient":"bottom","values":[-3.699,-3.523,-3.398,-3.301,-3.222,-3.155,-3.097,-3.046,-2.699,-2.523,-2.398,-2.301,-2.222,-2.155,-2.097,-2.046,-1.699,-1.523,-1.398,-1.301,-1.222,-1.155,-1.097,-1.046,-0.699,-0.523,-0.398,-0.301,-0.222,-0.155,-0.097,-0.046],"labels":false,"tickSize":-4,"title":null}},
    "y":{"field":"y","type":"quantitative","scale":{"domain":[18.5,21],"nice":false,"zero":false},"axis":{"orient":"left","values":[18.6,18.7,18.8,18.9,19.1,19.2,19.3,19.4,19.6,19.7,19.8,19.9,20.1,20.2,20.3,20.4,20.6,20.7,20.8,20.9],"labels":false,"tickSize":-4,"title":null}},
    "detail":{"field":"s"}}},
  {"transform":[{"filter":"datum.l>0"}],"mark":{"type":"line","filled":true,"stroke":"#000","strokeWidth":1.1,"interpolate":"cardinal-closed","clip":true,"order":null},
   "encoding":{"x":{"field":"x","type":"quantitative","scale":{"domain":[-4,0],"nice":false,"zero":false},"axis":{"orient":"top","values":[-4,-3,-2,-1,0],"labels":false,"tickSize":-7,"title":null}},
    "y":{"field":"y","type":"quantitative","scale":{"domain":[18.5,21],"nice":false,"zero":false},"axis":{"orient":"right","values":[18.5,19,19.5,20,20.5,21],"labels":false,"tickSize":-7,"title":null}},
    "detail":{"field":"s"},
    "color":{"field":"l","type":"quantitative","scale":{"type":"linear","domain":[0,5,10,15,20,25,30,35,40,45,50,55,60,70,80,90,100],"range":["#e8281c","#f05a20","#f88a2a","#f8b43a","#f8ee40","#b8e640","#78e040","#48d848","#28d060","#20d898","#20e0c8","#20d8e8","#18c0f0","#1070e8","#2030e0","#6818b0","#000000"]},
     "legend":{"title":"Fraction of Models (%)","values":[0,5,10,20,30,40,50,60,70,80,90,100],"orient":"none","direction":"horizontal","legendX":37,"legendY":628,"gradientLength":440,"gradientThickness":9,"titleAnchor":"middle","titleFontSize":15,"titleFontWeight":"normal","titleFont":"Liberation Sans","titleColor":"#222","labelFontSize":13,"labelFont":"Liberation Sans","labelColor":"#222","labelAlign":"center","labelOverlap":false,"gradientStrokeColor":"#000","gradientStrokeWidth":1,"titlePadding":4,"encode":{"labels":{"update":{"align":{"value":"center"}}}}}}}},
  {"transform":[{"filter":"datum.s=='O'"}],"mark":{"type":"point","shape":"circle","size":400,"filled":false,"color":"#000","strokeWidth":1,"opacity":1},
   "encoding":{"x":{"field":"x","type":"quantitative","scale":{"domain":[-4,0],"nice":false,"zero":false},"axis":{"orient":"top","values":[-3.699,-3.523,-3.398,-3.301,-3.222,-3.155,-3.097,-3.046,-2.699,-2.523,-2.398,-2.301,-2.222,-2.155,-2.097,-2.046,-1.699,-1.523,-1.398,-1.301,-1.222,-1.155,-1.097,-1.046,-0.699,-0.523,-0.398,-0.301,-0.222,-0.155,-0.097,-0.046],"labels":false,"tickSize":-4,"title":null}},
    "y":{"field":"y","type":"quantitative","scale":{"domain":[18.5,21],"nice":false,"zero":false},"axis":{"orient":"right","values":[18.6,18.7,18.8,18.9,19.1,19.2,19.3,19.4,19.6,19.7,19.8,19.9,20.1,20.2,20.3,20.4,20.6,20.7,20.8,20.9],"labels":false,"tickSize":-4,"title":null}}}},
  {"transform":[{"filter":"datum.s=='T'"}],"mark":{"type":"text","fontSize":12,"font":"Liberation Sans","color":"#222","align":"center","baseline":"middle"},
   "encoding":{"x":{"field":"x","type":"quantitative","scale":{"domain":[-4,0],"nice":false,"zero":false},"axis":null},
    "y":{"field":"y","type":"quantitative","scale":{"domain":[18.5,21],"nice":false,"zero":false},"axis":null},"text":{"field":"t"}}}
 ]},
{"width":239,"height":235,"title":"DM Tau","data":{"name":"c"},"transform":[{"filter":"datum.p==2"}],
 "resolve":{"axis":{"x":"independent","y":"independent"}},
 "layer":[
  {"transform":[{"filter":"datum.s=='L'"}],"mark":{"type":"line","filled":true,"fill":"#eeeeee","color":"#eeeeee","strokeWidth":0,"interpolate":"cardinal-closed","clip":true,"order":null},
   "encoding":{"x":{"field":"x","type":"quantitative","scale":{"domain":[-6,-2],"nice":false,"zero":false},"axis":{"orient":"bottom","values":[-6,-5,-4,-3,-2],"labelExpr":"['10⁻⁶','10⁻⁵','10⁻⁴','10⁻³','10⁻²'][datum.value+6]","ticks":false,"labelPadding":12,"title":"Beta","titlePadding":9}},
    "y":{"field":"y","type":"quantitative","scale":{"domain":[18.5,21],"nice":false,"zero":false},"axis":{"orient":"left","values":[18.5,19,19.5,20,20.5,21],"format":".1f","ticks":false,"labelPadding":7,"title":"Log₁₀(jcd)","titlePadding":8}},
    "detail":{"field":"s"}}},
  {"transform":[{"filter":"datum.s=='D'"}],"mark":{"type":"line","filled":true,"fill":"#cbcbcb","stroke":"#000","strokeWidth":1,"strokeDash":[1.5,3],"interpolate":"cardinal-closed","clip":true,"order":null},
   "encoding":{"x":{"field":"x","type":"quantitative","scale":{"domain":[-6,-2],"nice":false,"zero":false},"axis":{"orient":"bottom","values":[-6,-5,-4,-3,-2],"labels":false,"tickSize":-7,"title":null}},
    "y":{"field":"y","type":"quantitative","scale":{"domain":[18.5,21],"nice":false,"zero":false},"axis":{"orient":"left","values":[18.5,19,19.5,20,20.5,21],"labels":false,"tickSize":-7,"title":null}},
    "detail":{"field":"s"}}},
  {"transform":[{"filter":"datum.s=='L'"}],"mark":{"type":"line","stroke":"#000","strokeWidth":1,"interpolate":"cardinal-closed","clip":true,"order":null},
   "encoding":{"x":{"field":"x","type":"quantitative","scale":{"domain":[-6,-2],"nice":false,"zero":false},"axis":{"orient":"bottom","values":[-5.699,-5.523,-5.398,-5.301,-5.222,-5.155,-5.097,-5.046,-4.699,-4.523,-4.398,-4.301,-4.222,-4.155,-4.097,-4.046,-3.699,-3.523,-3.398,-3.301,-3.222,-3.155,-3.097,-3.046,-2.699,-2.523,-2.398,-2.301,-2.222,-2.155,-2.097,-2.046],"labels":false,"tickSize":-4,"title":null}},
    "y":{"field":"y","type":"quantitative","scale":{"domain":[18.5,21],"nice":false,"zero":false},"axis":{"orient":"left","values":[18.6,18.7,18.8,18.9,19.1,19.2,19.3,19.4,19.6,19.7,19.8,19.9,20.1,20.2,20.3,20.4,20.6,20.7,20.8,20.9],"labels":false,"tickSize":-4,"title":null}},
    "detail":{"field":"s"}}},
  {"transform":[{"filter":"datum.l>0"}],"mark":{"type":"line","filled":true,"stroke":"#000","strokeWidth":1.1,"interpolate":"cardinal-closed","clip":true,"order":null},
   "encoding":{"x":{"field":"x","type":"quantitative","scale":{"domain":[-6,-2],"nice":false,"zero":false},"axis":{"orient":"top","values":[-6,-5,-4,-3,-2],"labels":false,"tickSize":-7,"title":null}},
    "y":{"field":"y","type":"quantitative","scale":{"domain":[18.5,21],"nice":false,"zero":false},"axis":{"orient":"right","values":[18.5,19,19.5,20,20.5,21],"labels":false,"tickSize":-7,"title":null}},
    "detail":{"field":"s"},
    "color":{"field":"l","type":"quantitative","scale":{"type":"linear","domain":[0,5,10,15,20,25,30,35,40,45,50,55,60,70,80,90,100],"range":["#e8281c","#f05a20","#f88a2a","#f8b43a","#f8ee40","#b8e640","#78e040","#48d848","#28d060","#20d898","#20e0c8","#20d8e8","#18c0f0","#1070e8","#2030e0","#6818b0","#000000"]},
     "legend":{"title":"Fraction of Models (%)","values":[0,5,10,20,30,40,50,60,70,80,90,100],"orient":"none","direction":"horizontal","legendX":37,"legendY":628,"gradientLength":440,"gradientThickness":9,"titleAnchor":"middle","titleFontSize":15,"titleFontWeight":"normal","titleFont":"Liberation Sans","titleColor":"#222","labelFontSize":13,"labelFont":"Liberation Sans","labelColor":"#222","labelAlign":"center","labelOverlap":false,"gradientStrokeColor":"#000","gradientStrokeWidth":1,"titlePadding":4,"encode":{"labels":{"update":{"align":{"value":"center"}}}}}}}},
  {"transform":[{"filter":"datum.s=='O'"}],"mark":{"type":"point","shape":"circle","size":400,"filled":false,"color":"#000","strokeWidth":1,"opacity":1},
   "encoding":{"x":{"field":"x","type":"quantitative","scale":{"domain":[-6,-2],"nice":false,"zero":false},"axis":{"orient":"top","values":[-5.699,-5.523,-5.398,-5.301,-5.222,-5.155,-5.097,-5.046,-4.699,-4.523,-4.398,-4.301,-4.222,-4.155,-4.097,-4.046,-3.699,-3.523,-3.398,-3.301,-3.222,-3.155,-3.097,-3.046,-2.699,-2.523,-2.398,-2.301,-2.222,-2.155,-2.097,-2.046],"labels":false,"tickSize":-4,"title":null}},
    "y":{"field":"y","type":"quantitative","scale":{"domain":[18.5,21],"nice":false,"zero":false},"axis":{"orient":"right","values":[18.6,18.7,18.8,18.9,19.1,19.2,19.3,19.4,19.6,19.7,19.8,19.9,20.1,20.2,20.3,20.4,20.6,20.7,20.8,20.9],"labels":false,"tickSize":-4,"title":null}}}},
  {"transform":[{"filter":"datum.s=='T'"}],"mark":{"type":"text","fontSize":12,"font":"Liberation Sans","color":"#222","align":"center","baseline":"middle"},
   "encoding":{"x":{"field":"x","type":"quantitative","scale":{"domain":[-6,-2],"nice":false,"zero":false},"axis":null},
    "y":{"field":"y","type":"quantitative","scale":{"domain":[18.5,21],"nice":false,"zero":false},"axis":null},"text":{"field":"t"}}}
 ]}
]},
{"spacing":21,"hconcat":[
{"width":239,"height":235,"title":"GM Aur","data":{"name":"c"},"transform":[{"filter":"datum.p==3"}],
 "resolve":{"axis":{"x":"independent","y":"independent"}},
 "layer":[
  {"transform":[{"filter":"datum.s=='L'"}],"mark":{"type":"line","filled":true,"fill":"#eeeeee","color":"#eeeeee","strokeWidth":0,"interpolate":"cardinal-closed","clip":true,"order":null},
   "encoding":{"x":{"field":"x","type":"quantitative","scale":{"domain":[-4,0],"nice":false,"zero":false},"axis":{"orient":"bottom","values":[-4,-3,-2,-1,0],"labelExpr":"['0.0001','0.001','0.01','0.1','1'][datum.value+4]","ticks":false,"labelPadding":12,"title":"Alpha","titlePadding":9}},
    "y":{"field":"y","type":"quantitative","scale":{"domain":[18.5,21],"nice":false,"zero":false},"axis":{"orient":"left","values":[18.5,19,19.5,20,20.5,21],"format":".1f","ticks":false,"labelPadding":7,"title":"Log₁₀(jcd)","titlePadding":8}},
    "detail":{"field":"s"}}},
  {"transform":[{"filter":"datum.s=='D'"}],"mark":{"type":"line","filled":true,"fill":"#cbcbcb","stroke":"#000","strokeWidth":1,"strokeDash":[1.5,3],"interpolate":"cardinal-closed","clip":true,"order":null},
   "encoding":{"x":{"field":"x","type":"quantitative","scale":{"domain":[-4,0],"nice":false,"zero":false},"axis":{"orient":"bottom","values":[-4,-3,-2,-1,0],"labels":false,"tickSize":-7,"title":null}},
    "y":{"field":"y","type":"quantitative","scale":{"domain":[18.5,21],"nice":false,"zero":false},"axis":{"orient":"left","values":[18.5,19,19.5,20,20.5,21],"labels":false,"tickSize":-7,"title":null}},
    "detail":{"field":"s"}}},
  {"transform":[{"filter":"datum.s=='L'"}],"mark":{"type":"line","stroke":"#000","strokeWidth":1,"interpolate":"cardinal-closed","clip":true,"order":null},
   "encoding":{"x":{"field":"x","type":"quantitative","scale":{"domain":[-4,0],"nice":false,"zero":false},"axis":{"orient":"bottom","values":[-3.699,-3.523,-3.398,-3.301,-3.222,-3.155,-3.097,-3.046,-2.699,-2.523,-2.398,-2.301,-2.222,-2.155,-2.097,-2.046,-1.699,-1.523,-1.398,-1.301,-1.222,-1.155,-1.097,-1.046,-0.699,-0.523,-0.398,-0.301,-0.222,-0.155,-0.097,-0.046],"labels":false,"tickSize":-4,"title":null}},
    "y":{"field":"y","type":"quantitative","scale":{"domain":[18.5,21],"nice":false,"zero":false},"axis":{"orient":"left","values":[18.6,18.7,18.8,18.9,19.1,19.2,19.3,19.4,19.6,19.7,19.8,19.9,20.1,20.2,20.3,20.4,20.6,20.7,20.8,20.9],"labels":false,"tickSize":-4,"title":null}},
    "detail":{"field":"s"}}},
  {"transform":[{"filter":"datum.l>0"}],"mark":{"type":"line","filled":true,"stroke":"#000","strokeWidth":1.1,"interpolate":"cardinal-closed","clip":true,"order":null},
   "encoding":{"x":{"field":"x","type":"quantitative","scale":{"domain":[-4,0],"nice":false,"zero":false},"axis":{"orient":"top","values":[-4,-3,-2,-1,0],"labels":false,"tickSize":-7,"title":null}},
    "y":{"field":"y","type":"quantitative","scale":{"domain":[18.5,21],"nice":false,"zero":false},"axis":{"orient":"right","values":[18.5,19,19.5,20,20.5,21],"labels":false,"tickSize":-7,"title":null}},
    "detail":{"field":"s"},
    "color":{"field":"l","type":"quantitative","scale":{"type":"linear","domain":[0,5,10,15,20,25,30,35,40,45,50,55,60,70,80,90,100],"range":["#e8281c","#f05a20","#f88a2a","#f8b43a","#f8ee40","#b8e640","#78e040","#48d848","#28d060","#20d898","#20e0c8","#20d8e8","#18c0f0","#1070e8","#2030e0","#6818b0","#000000"]},
     "legend":{"title":"Fraction of Models (%)","values":[0,5,10,20,30,40,50,60,70,80,90,100],"orient":"none","direction":"horizontal","legendX":37,"legendY":628,"gradientLength":440,"gradientThickness":9,"titleAnchor":"middle","titleFontSize":15,"titleFontWeight":"normal","titleFont":"Liberation Sans","titleColor":"#222","labelFontSize":13,"labelFont":"Liberation Sans","labelColor":"#222","labelAlign":"center","labelOverlap":false,"gradientStrokeColor":"#000","gradientStrokeWidth":1,"titlePadding":4,"encode":{"labels":{"update":{"align":{"value":"center"}}}}}}}},
  {"transform":[{"filter":"datum.s=='O'"}],"mark":{"type":"point","shape":"circle","size":400,"filled":false,"color":"#000","strokeWidth":1,"opacity":1},
   "encoding":{"x":{"field":"x","type":"quantitative","scale":{"domain":[-4,0],"nice":false,"zero":false},"axis":{"orient":"top","values":[-3.699,-3.523,-3.398,-3.301,-3.222,-3.155,-3.097,-3.046,-2.699,-2.523,-2.398,-2.301,-2.222,-2.155,-2.097,-2.046,-1.699,-1.523,-1.398,-1.301,-1.222,-1.155,-1.097,-1.046,-0.699,-0.523,-0.398,-0.301,-0.222,-0.155,-0.097,-0.046],"labels":false,"tickSize":-4,"title":null}},
    "y":{"field":"y","type":"quantitative","scale":{"domain":[18.5,21],"nice":false,"zero":false},"axis":{"orient":"right","values":[18.6,18.7,18.8,18.9,19.1,19.2,19.3,19.4,19.6,19.7,19.8,19.9,20.1,20.2,20.3,20.4,20.6,20.7,20.8,20.9],"labels":false,"tickSize":-4,"title":null}}}},
  {"transform":[{"filter":"datum.s=='T'"}],"mark":{"type":"text","fontSize":12,"font":"Liberation Sans","color":"#222","align":"center","baseline":"middle"},
   "encoding":{"x":{"field":"x","type":"quantitative","scale":{"domain":[-4,0],"nice":false,"zero":false},"axis":null},
    "y":{"field":"y","type":"quantitative","scale":{"domain":[18.5,21],"nice":false,"zero":false},"axis":null},"text":{"field":"t"}}}
 ]},
{"width":239,"height":235,"title":"GM Aur","data":{"name":"c"},"transform":[{"filter":"datum.p==4"}],
 "resolve":{"axis":{"x":"independent","y":"independent"}},
 "layer":[
  {"transform":[{"filter":"datum.s=='L'"}],"mark":{"type":"line","filled":true,"fill":"#eeeeee","color":"#eeeeee","strokeWidth":0,"interpolate":"cardinal-closed","clip":true,"order":null},
   "encoding":{"x":{"field":"x","type":"quantitative","scale":{"domain":[-6,-2],"nice":false,"zero":false},"axis":{"orient":"bottom","values":[-6,-5,-4,-3,-2],"labelExpr":"['10⁻⁶','10⁻⁵','10⁻⁴','10⁻³','10⁻²'][datum.value+6]","ticks":false,"labelPadding":12,"title":"Beta","titlePadding":9}},
    "y":{"field":"y","type":"quantitative","scale":{"domain":[18.5,21],"nice":false,"zero":false},"axis":{"orient":"left","values":[18.5,19,19.5,20,20.5,21],"format":".1f","ticks":false,"labelPadding":7,"title":"Log₁₀(jcd)","titlePadding":8}},
    "detail":{"field":"s"}}},
  {"transform":[{"filter":"datum.s=='D'"}],"mark":{"type":"line","filled":true,"fill":"#cbcbcb","stroke":"#000","strokeWidth":1,"strokeDash":[1.5,3],"interpolate":"cardinal-closed","clip":true,"order":null},
   "encoding":{"x":{"field":"x","type":"quantitative","scale":{"domain":[-6,-2],"nice":false,"zero":false},"axis":{"orient":"bottom","values":[-6,-5,-4,-3,-2],"labels":false,"tickSize":-7,"title":null}},
    "y":{"field":"y","type":"quantitative","scale":{"domain":[18.5,21],"nice":false,"zero":false},"axis":{"orient":"left","values":[18.5,19,19.5,20,20.5,21],"labels":false,"tickSize":-7,"title":null}},
    "detail":{"field":"s"}}},
  {"transform":[{"filter":"datum.s=='L'"}],"mark":{"type":"line","stroke":"#000","strokeWidth":1,"interpolate":"cardinal-closed","clip":true,"order":null},
   "encoding":{"x":{"field":"x","type":"quantitative","scale":{"domain":[-6,-2],"nice":false,"zero":false},"axis":{"orient":"bottom","values":[-5.699,-5.523,-5.398,-5.301,-5.222,-5.155,-5.097,-5.046,-4.699,-4.523,-4.398,-4.301,-4.222,-4.155,-4.097,-4.046,-3.699,-3.523,-3.398,-3.301,-3.222,-3.155,-3.097,-3.046,-2.699,-2.523,-2.398,-2.301,-2.222,-2.155,-2.097,-2.046],"labels":false,"tickSize":-4,"title":null}},
    "y":{"field":"y","type":"quantitative","scale":{"domain":[18.5,21],"nice":false,"zero":false},"axis":{"orient":"left","values":[18.6,18.7,18.8,18.9,19.1,19.2,19.3,19.4,19.6,19.7,19.8,19.9,20.1,20.2,20.3,20.4,20.6,20.7,20.8,20.9],"labels":false,"tickSize":-4,"title":null}},
    "detail":{"field":"s"}}},
  {"transform":[{"filter":"datum.l>0"}],"mark":{"type":"line","filled":true,"stroke":"#000","strokeWidth":1.1,"interpolate":"cardinal-closed","clip":true,"order":null},
   "encoding":{"x":{"field":"x","type":"quantitative","scale":{"domain":[-6,-2],"nice":false,"zero":false},"axis":{"orient":"top","values":[-6,-5,-4,-3,-2],"labels":false,"tickSize":-7,"title":null}},
    "y":{"field":"y","type":"quantitative","scale":{"domain":[18.5,21],"nice":false,"zero":false},"axis":{"orient":"right","values":[18.5,19,19.5,20,20.5,21],"labels":false,"tickSize":-7,"title":null}},
    "detail":{"field":"s"},
    "color":{"field":"l","type":"quantitative","scale":{"type":"linear","domain":[0,5,10,15,20,25,30,35,40,45,50,55,60,70,80,90,100],"range":["#e8281c","#f05a20","#f88a2a","#f8b43a","#f8ee40","#b8e640","#78e040","#48d848","#28d060","#20d898","#20e0c8","#20d8e8","#18c0f0","#1070e8","#2030e0","#6818b0","#000000"]},
     "legend":{"title":"Fraction of Models (%)","values":[0,5,10,20,30,40,50,60,70,80,90,100],"orient":"none","direction":"horizontal","legendX":37,"legendY":628,"gradientLength":440,"gradientThickness":9,"titleAnchor":"middle","titleFontSize":15,"titleFontWeight":"normal","titleFont":"Liberation Sans","titleColor":"#222","labelFontSize":13,"labelFont":"Liberation Sans","labelColor":"#222","labelAlign":"center","labelOverlap":false,"gradientStrokeColor":"#000","gradientStrokeWidth":1,"titlePadding":4,"encode":{"labels":{"update":{"align":{"value":"center"}}}}}}}},
  {"transform":[{"filter":"datum.s=='O'"}],"mark":{"type":"point","shape":"circle","size":400,"filled":false,"color":"#000","strokeWidth":1,"opacity":1},
   "encoding":{"x":{"field":"x","type":"quantitative","scale":{"domain":[-6,-2],"nice":false,"zero":false},"axis":{"orient":"top","values":[-5.699,-5.523,-5.398,-5.301,-5.222,-5.155,-5.097,-5.046,-4.699,-4.523,-4.398,-4.301,-4.222,-4.155,-4.097,-4.046,-3.699,-3.523,-3.398,-3.301,-3.222,-3.155,-3.097,-3.046,-2.699,-2.523,-2.398,-2.301,-2.222,-2.155,-2.097,-2.046],"labels":false,"tickSize":-4,"title":null}},
    "y":{"field":"y","type":"quantitative","scale":{"domain":[18.5,21],"nice":false,"zero":false},"axis":{"orient":"right","values":[18.6,18.7,18.8,18.9,19.1,19.2,19.3,19.4,19.6,19.7,19.8,19.9,20.1,20.2,20.3,20.4,20.6,20.7,20.8,20.9],"labels":false,"tickSize":-4,"title":null}}}},
  {"transform":[{"filter":"datum.s=='T'"}],"mark":{"type":"text","fontSize":12,"font":"Liberation Sans","color":"#222","align":"center","baseline":"middle"},
   "encoding":{"x":{"field":"x","type":"quantitative","scale":{"domain":[-6,-2],"nice":false,"zero":false},"axis":null},
    "y":{"field":"y","type":"quantitative","scale":{"domain":[18.5,21],"nice":false,"zero":false},"axis":null},"text":{"field":"t"}}}
 ]}
]}
]
}
